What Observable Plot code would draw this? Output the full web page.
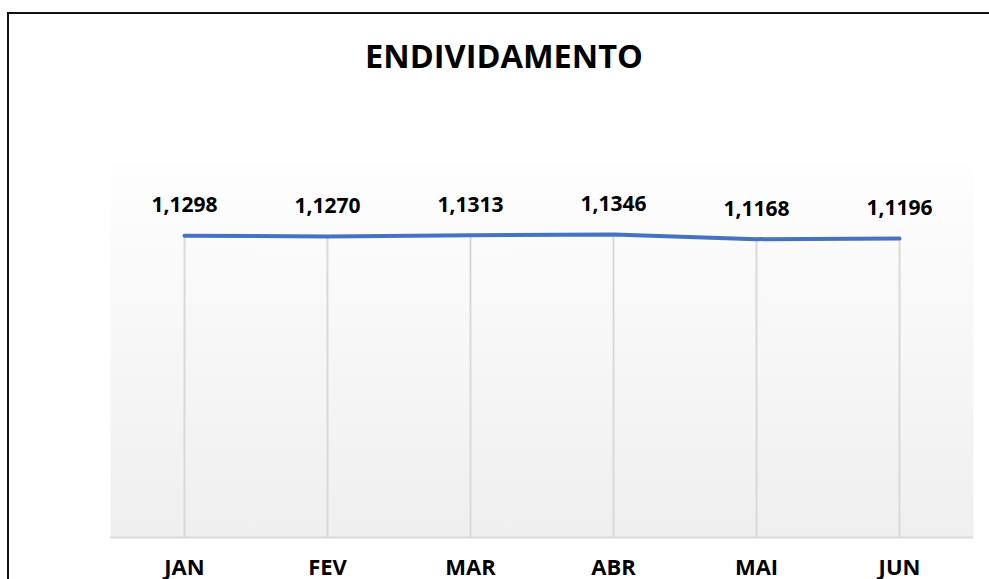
<!DOCTYPE html>
<html>
<head>
<meta charset="utf-8">
<script src="https://cdn.jsdelivr.net/npm/d3@7"></script>
<script src="https://cdn.jsdelivr.net/npm/@observablehq/plot@0.6"></script>
<style>
  html, body { margin: 0; padding: 0; background: #fff; }
  #wrap { position: relative; width: 989px; height: 579px; overflow: hidden; background: #fff; }
  #border { position: absolute; left: 7px; top: 12px; width: 1000px; height: 620px; border: 2px solid #111; box-sizing: border-box; pointer-events: none; }
  #title { position: absolute; left: 504px; top: 40px; transform: translateX(-50%); font-family: 'Open Sans', sans-serif; font-weight: bold; font-size: 32.5px; line-height: 32px; color: #000; white-space: nowrap; }
  #chart { position: absolute; left: 0; top: 0; }
</style>
</head>
<body>
<div id="wrap">
  <div id="chart"></div>
  <div id="border"></div>
  <div id="title">ENDIVIDAMENTO</div>
</div>
<script>
const months = ["JAN", "FEV", "MAR", "ABR", "MAI", "JUN"];
const values = [1.1298, 1.1270, 1.1313, 1.1346, 1.1168, 1.1196];
const yDomain = [0, 1.4];

const data = months.map((m, i) => ({month: m, value: values[i]}));
const fmt = v => v.toFixed(4).replace(".", ",");

const chart = Plot.plot({
  width: 989,
  height: 579,
  marginLeft: 110,
  marginRight: 16,
  marginTop: 163,
  marginBottom: 42,
  x: {type: "point", domain: months, padding: 0.5},
  y: {domain: yDomain, axis: null},
  style: {fontFamily: "'Open Sans', sans-serif", background: "transparent", color: "#000", overflow: "visible"},
  marks: [
    Plot.frame({fill: "url(#bggrad)", stroke: null}),
    Plot.ruleX(data, {x: "month", y1: 0, y2: "value", stroke: "#d9d9d9", strokeWidth: 2}),
    Plot.ruleY([0], {stroke: "#d9d9d9", strokeWidth: 2}),
    Plot.lineY(data, {x: "month", y: "value", stroke: "#4472C4", strokeWidth: 4, strokeLinecap: "round", strokeLinejoin: "round"}),
    Plot.text(data, {x: "month", y: "value", text: d => fmt(d.value), dy: -30, fontSize: 21, fontWeight: "bold", fill: "#000"}),
    Plot.axisX({tickSize: 0, tickPadding: 22, fontSize: 22, fontWeight: "bold", label: null})
  ]
});

d3.select(chart).insert("defs", ":first-child").html(
  '<linearGradient id="bggrad" x1="0" y1="0" x2="0" y2="1">' +
  '<stop offset="0" stop-color="#fefefe"/>' +
  '<stop offset="1" stop-color="#efefef"/>' +
  '</linearGradient>'
);

document.getElementById("chart").appendChild(chart);
</script>
</body>
</html>
